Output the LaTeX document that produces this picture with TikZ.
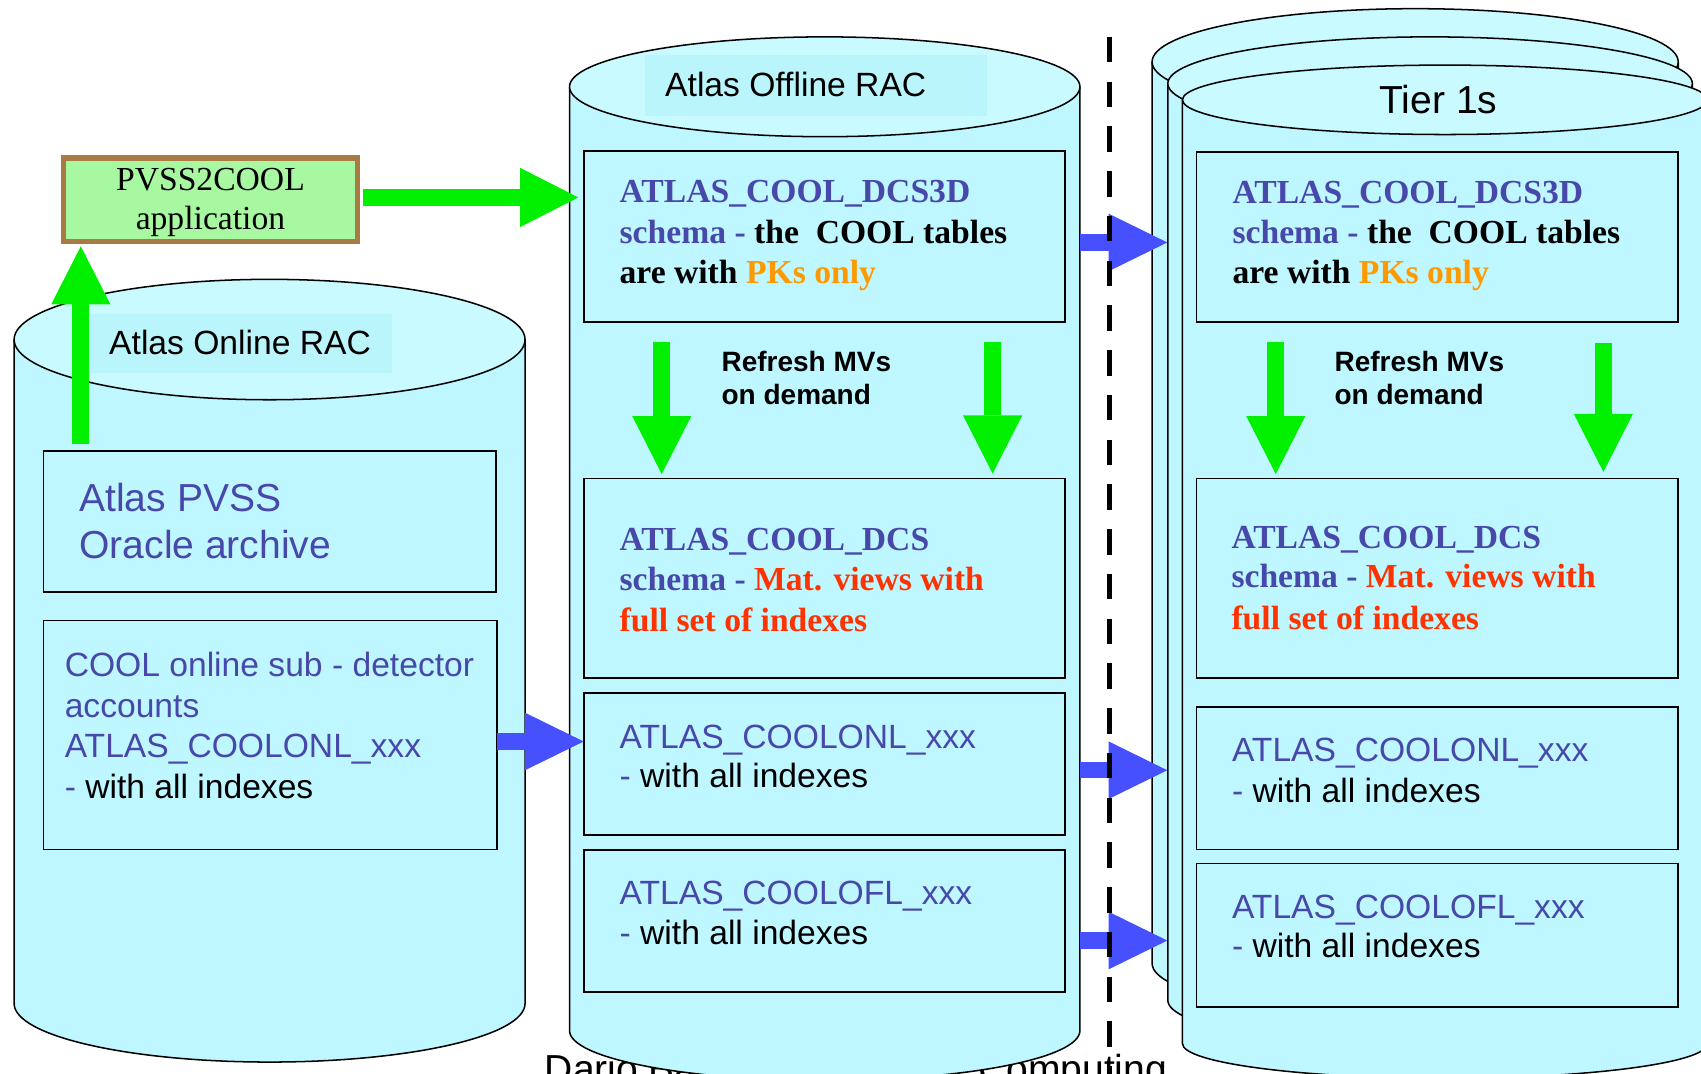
\documentclass[tikz,border=0pt]{standalone}
\usepackage{fontspec}
\setmainfont{Liberation Serif}
\setsansfont{Liberation Sans}
\usetikzlibrary{arrows.meta,calc}
\definecolor{cylbody}{HTML}{BEF7FF}
\definecolor{cyltop}{HTML}{C8FAFF}
\definecolor{lblbg}{HTML}{BBF5FC}
\definecolor{txtblue}{HTML}{4848AA}
\definecolor{txtorange}{HTML}{FF9900}
\definecolor{txtred}{HTML}{FF3300}
\definecolor{agreen}{HTML}{00F000}
\definecolor{ablue}{HTML}{4650FF}
\definecolor{pvssfill}{HTML}{A8F8A2}
\definecolor{pvssborder}{HTML}{A87B45}
\newcommand\dbcyl[6]{% cx, top cy, bottom cy, rx, ry top, ry bottom
  \fill[cylbody] ({#1-#4},#2) -- ({#1-#4},#3) arc[start angle=180,end angle=360,x radius=#4pt,y radius=#6pt] -- ({#1+#4},#2) -- cycle;
  \draw[cylline] ({#1-#4},#2) -- ({#1-#4},#3) arc[start angle=180,end angle=360,x radius=#4pt,y radius=#6pt] -- ({#1+#4},#2);
  \draw[cylline,fill=cyltop] (#1,#2) ellipse[x radius=#4pt,y radius=#5pt];
}
\tikzset{
  cylline/.style={draw=black,line width=1.4pt},
  dbbox/.style={draw=black,line width=1.6pt,fill=cylbody,inner sep=0pt,outer sep=0pt,anchor=north west},
  lblrect/.style={fill=lblbg,inner sep=0pt,outer sep=0pt,anchor=north west},
  sf/.style={font=\fontsize{31}{37}\selectfont\sffamily,inner sep=0pt,anchor=base west,text=txtblue},
  sfbig/.style={font=\fontsize{36}{42}\selectfont\sffamily,inner sep=0pt,anchor=base west,text=txtblue},
  rmb/.style={font=\fontsize{31}{37}\selectfont\rmfamily\bfseries,inner sep=0pt,anchor=base west,text=txtblue},
  refr/.style={font=\fontsize{25.8}{30}\selectfont\sffamily\bfseries,inner sep=0pt,anchor=base west,text=black},
  title/.style={font=\fontsize{31}{37}\selectfont\sffamily,inner sep=0pt,anchor=base west,text=black},
  garrow/.style={draw=agreen,line width=16pt,-{Triangle[length=53.5pt,width=54.5pt,line width=0pt]}},
  barrow/.style={draw=ablue,line width=15pt,-{Triangle[length=54pt,width=53pt,line width=0pt]}},
  sepline/.style={draw=black,line width=5pt,dash pattern=on 23.5pt off 17.75pt},
}
\begin{document}
\begin{tikzpicture}[x=1pt,y=-1pt]
\useasboundingbox (0,0) rectangle (1568,990);
\clip (0,0) rectangle (1568,990);
\fill[white] (0,0) rectangle (1568,990);

% footer (mostly hidden)
\node[font=\fontsize{36}{40}\selectfont\sffamily,inner sep=0pt,anchor=base west] (foot1) at (502,998) {Dario Barberis};
\node[font=\fontsize{36}{40}\selectfont\sffamily,inner sep=0pt,anchor=base east] (foot2) at (1076,998) {Computing};

% cylinders
\dbcyl{248.5}{313}{925}{235.5}{55.5}{54}
\node[lblrect,minimum width=278pt,minimum height=55pt] (onlrect) at (83,289) {};
\node[title] (onltitle) at (100.5,327) {Atlas Online RAC};

\dbcyl{760.25}{80}{950}{235.25}{46}{46}
\node[lblrect,minimum width=315pt,minimum height=56pt] (offrect) at (595,51) {};
\node[title] (offtitle) at (613,89.4) {Atlas Offline RAC};

\dbcyl{1304.5}{57}{888}{242.5}{49}{49}
\dbcyl{1318.25}{77}{922}{241.75}{43}{43}
\dbcyl{1332}{92}{962}{242}{32}{32}
\node[font=\fontsize{36}{40}\selectfont\sffamily,inner sep=0pt,anchor=base] (tiertitle) at (1326,105) {Tier 1s};

% PVSS2COOL
\node[draw=pvssborder,line width=5pt,fill=pvssfill,minimum width=271pt,minimum height=77pt,inner sep=0pt,outer sep=0pt] (pvss) at (194,184) {};
\node[font=\fontsize{31}{36}\selectfont\rmfamily,inner sep=0pt,anchor=base] (pv1) at (194,176) {PVSS2COOL};
\node[font=\fontsize{31}{36}\selectfont\rmfamily,inner sep=0pt,anchor=base] (pv2) at (194,212) {application};

% left boxes
\node[dbbox,minimum width=417.5pt,minimum height=130.4pt] (archive) at (40,415.4) {};
\node[sfbig] (ar1) at (73,471.7) {Atlas PVSS};
\node[sfbig] (ar2) at (73,514.5) {Oracle archive};

\node[dbbox,minimum width=418pt,minimum height=211pt] (onlL) at (40,572) {};
\node[sf] (ol1) at (59.5,624) {COOL online sub - detector};
\node[sf] (ol2) at (59.5,661) {accounts};
\node[sf] (ol3) at (59.5,698) {ATLAS\_COOLONL\_xxx};
\node[sf,text=black] (ol4) at (59.5,736) {\textcolor{txtblue}{-} with all indexes};

% middle boxes
\node[dbbox,minimum width=444pt,minimum height=157.5pt] (dcs3dM) at (538,139) {};
\node[rmb] (m11) at (571,187) {ATLAS\_COOL\_DCS3D};
\node[rmb] (m12) at (571,224) {schema - \textcolor{black}{the~~COOL tables}};
\node[rmb,text=black] (m13) at (571,261) {are with \textcolor{txtorange}{PKs only}};

\node[refr] (rfM1) at (665,342.6) {Refresh MVs};
\node[refr] (rfM2) at (665,373) {on demand};

\node[dbbox,minimum width=444pt,minimum height=184pt] (dcsM) at (538,441) {};
\node[rmb] (m21) at (571,507) {ATLAS\_COOL\_DCS};
\node[rmb] (m22) at (571,544) {schema - \textcolor{txtred}{Mat. views with}};
\node[rmb,text=txtred] (m23) at (571,582) {full set of indexes};

\node[dbbox,minimum width=444pt,minimum height=131.5pt] (onlM) at (538,638.5) {};
\node[sf] (m31) at (571,689.6) {ATLAS\_COOLONL\_xxx};
\node[sf,text=black] (m32) at (571,725.6) {\textcolor{txtblue}{-} with all indexes};

\node[dbbox,minimum width=444pt,minimum height=131pt] (oflM) at (538,783.5) {};
\node[sf] (m41) at (571,833.4) {ATLAS\_COOLOFL\_xxx};
\node[sf,text=black] (m42) at (571,871) {\textcolor{txtblue}{-} with all indexes};

% right boxes
\node[dbbox,minimum width=444pt,minimum height=157pt] (dcs3dR) at (1103,140) {};
\node[rmb] (r11) at (1136,187.5) {ATLAS\_COOL\_DCS3D};
\node[rmb] (r12) at (1136,224) {schema - \textcolor{black}{the~~COOL tables}};
\node[rmb,text=black] (r13) at (1136,261) {are with \textcolor{txtorange}{PKs only}};

\node[refr] (rfR1) at (1230,342.6) {Refresh MVs};
\node[refr] (rfR2) at (1230,373) {on demand};

\node[dbbox,minimum width=444pt,minimum height=184pt] (dcsR) at (1103,441) {};
\node[rmb] (r21) at (1135,506) {ATLAS\_COOL\_DCS};
\node[rmb] (r22) at (1135,542) {schema - \textcolor{txtred}{Mat. views with}};
\node[rmb,text=txtred] (r23) at (1135,580) {full set of indexes};

\node[dbbox,minimum width=444pt,minimum height=131.5pt] (onlR) at (1103,651.5) {};
\node[sf] (r31) at (1135.5,702) {ATLAS\_COOLONL\_xxx};
\node[sf,text=black] (r32) at (1135.5,740) {\textcolor{txtblue}{-} with all indexes};

\node[dbbox,minimum width=444pt,minimum height=132pt] (oflR) at (1103,796) {};
\node[sf] (r41) at (1135.5,847) {ATLAS\_COOLOFL\_xxx};
\node[sf,text=black] (r42) at (1135.5,883) {\textcolor{txtblue}{-} with all indexes};

% green arrows
\coordinate (g1s) at ($(pvss.east)+(5.5,-2)$);
\draw[garrow,shorten >=5pt] (g1s) -- (g1s -| dcs3dM.west);
\coordinate (g2s) at (74.5,409);
\draw[garrow,shorten >=4.5pt] (g2s) -- (g2s |- pvss.south);
\coordinate (g3s) at (610,315);
\draw[garrow,shorten >=4pt] (g3s) -- (g3s |- dcsM.north);
\coordinate (g4s) at (915,315);
\draw[garrow,shorten >=4.5pt] (g4s) -- (g4s |- dcsM.north);
\coordinate (g5s) at (1176,315);
\draw[garrow,shorten >=4pt] (g5s) -- (g5s |- dcsR.north);
\coordinate (g6s) at (1478,316);
\draw[garrow,shorten >=6pt] (g6s) -- (g6s |- dcsR.north);

% blue arrows
\coordinate (b1s) at (458,683.5);
\draw[barrow] (b1s) -- (b1s -| onlM.west);
\coordinate (b2s) at (996,223.5);
\coordinate (b2e) at (1076,223.5);
\draw[barrow] (b2s) -- (b2e);
\coordinate (b3s) at (996,710);
\coordinate (b3e) at (1076,710);
\draw[barrow] (b3s) -- (b3e);
\coordinate (b4s) at (996,867);
\coordinate (b4e) at (1076,867);
\draw[barrow] (b4s) -- (b4e);

% separator
\coordinate (septop) at (1022.5,34);
\coordinate (sepbot) at (1022.5,1000);
\draw[sepline] (septop) -- (sepbot);
\end{tikzpicture}
\end{document}
